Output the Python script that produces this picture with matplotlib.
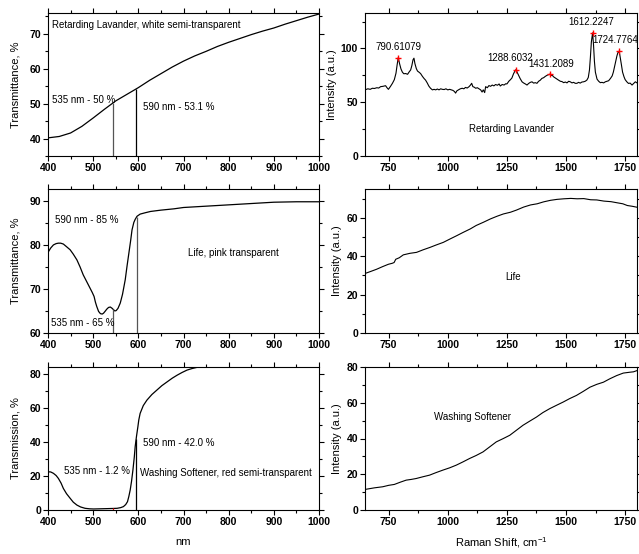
import matplotlib
matplotlib.use("Agg")
import matplotlib.pyplot as plt
from matplotlib.ticker import MultipleLocator

plt.rcParams['font.family'] = ['Liberation Sans', 'DejaVu Sans']

# ---------------- data ----------------
# Panel A: Retarding Lavander transmittance
lav_nm = [400, 425, 450, 475, 500, 525, 550, 575, 600, 625, 650, 675, 700, 725, 750,
          775, 800, 825, 850, 875, 900, 925, 950, 975, 1000]
lav_T = [40.2, 40.6, 41.6, 43.5, 45.9, 48.4, 50.8, 52.7, 54.6, 56.7, 58.6, 60.5, 62.2, 63.7, 65.0,
         66.4, 67.6, 68.7, 69.8, 70.8, 71.7, 72.8, 73.8, 74.8, 75.7]
lav_mark_nm = [543, 595]
lav_mark_T = [50.1, 54.3]

# Panel B: Retarding Lavander Raman
lav_ram_x = [650, 662, 672, 681, 690, 700, 708, 716, 726, 737, 743, 749, 757, 766, 774, 781, 786,
             790.6, 796, 802, 808, 814, 822, 830, 837, 843, 848, 853, 857, 861, 867, 872, 878, 885,
             893, 900, 906, 913, 920, 927, 935, 942, 949, 956, 963, 970, 977, 985, 992, 1000, 1008,
             1015, 1022, 1028, 1033, 1038, 1045, 1053, 1061, 1068, 1075, 1082, 1090, 1096, 1101,
             1106, 1112, 1118, 1125, 1132, 1139, 1145, 1150, 1156, 1160, 1167, 1174, 1181, 1188,
             1195, 1202, 1210, 1217, 1222, 1230, 1238, 1245, 1250, 1258, 1265, 1271, 1278, 1284,
             1288.6, 1294, 1299, 1306, 1314, 1320, 1328, 1335, 1342, 1349, 1356, 1363, 1370, 1377,
             1384, 1391, 1398, 1405, 1412, 1419, 1425, 1431.2, 1438, 1443, 1447, 1455, 1462, 1468,
             1476, 1483, 1490, 1497, 1504, 1511, 1518, 1525, 1532, 1539, 1546, 1553, 1560, 1567,
             1574, 1581, 1588, 1594, 1599, 1603, 1607, 1612.2, 1616, 1620, 1624, 1631, 1638, 1645,
             1652, 1659, 1666, 1673, 1680, 1688, 1695, 1700, 1705, 1710, 1715, 1719, 1724.8, 1729,
             1734, 1739, 1745, 1750, 1757, 1764, 1771, 1779, 1786, 1793, 1800]
lav_ram_y = [61.5, 62.5, 62, 63, 62.8, 63.5, 63.2, 64.5, 64.8, 65.4, 63.5, 62, 64.5, 67.6, 71, 77, 85,
             91.5, 86, 81, 78, 76.5, 76.7, 76, 78.3, 80, 84, 89.5, 91, 86, 81.3, 79, 78, 76.7,
             74, 72, 70.6, 68, 65, 63, 61.5, 62, 61.5, 62.3, 61.5, 62.5, 62, 61.8, 62.5, 61.5, 62,
             61.5, 61, 60, 58.5, 60.5, 61.5, 62.5, 63, 62.5, 63.8, 63.2, 64.5, 66, 67.6,
             64.5, 64, 63, 63.5, 62.5, 61.5, 59.5, 61.5, 59, 64.5, 63.5, 65.5, 64.8, 66,
             65.2, 66.5, 65.8, 67, 65.1, 66.5, 66, 67.2, 67, 69.5, 71, 72.5, 76.5, 79,
             80.4, 77.5, 75.2, 72, 69, 68, 67, 66, 67.5, 68.5, 69, 67.8, 68.2, 67.6,
             69.5, 70.5, 72.2, 72.8, 74, 75, 75.5, 76.1, 75, 74.8, 73.7, 72.5, 71.5, 70.6,
             69.5, 69.2, 68.2, 68.8, 68, 69.5, 69, 68, 68.5, 67.6, 67.6, 68.5, 67.8, 68.8,
             69, 69.5, 70.6, 73, 80, 92, 106, 114.5, 104, 88, 78, 71.5, 69.5, 68.2,
             68.5, 68, 69, 69.5, 70, 72.2, 74.5, 78, 83, 88, 93, 96, 97.5, 92,
             85, 78, 73.7, 71, 69, 67.5, 67.8, 66, 67.5, 69, 68]
lav_peaks_x = [790.6, 1288.6, 1431.2, 1612.2, 1724.8]
lav_peaks_y = [91.5, 80.4, 76.1, 114.5, 97.5]
lav_peak_labels = ["790.61079", "1288.6032", "1431.2089", "1612.2247", "1724.7764"]

# Panel C: Life transmittance
life_nm = [400, 406, 412, 418, 423, 428, 434, 441, 449, 456, 464, 471, 478, 486, 493, 498, 502,
           505, 508, 512, 516, 520, 523, 527, 530, 534, 538, 542, 545, 548, 551, 555, 560, 565,
           571, 575, 579, 583, 586, 590, 593, 597, 604, 615, 627, 650, 679, 700, 750, 800, 850,
           900, 950, 1000]
life_T = [78.3, 79.3, 80.0, 80.3, 80.4, 80.4, 80.2, 79.6, 78.9, 77.9, 76.6, 75.0, 73.2, 71.6, 70.2,
          69.2, 68.3, 67.0, 66.0, 64.9, 64.4, 64.3, 64.5, 65.0, 65.4, 65.8, 65.9, 65.6, 65.3, 65.0,
          65.1, 65.6, 66.8, 68.8, 72.1, 75.2, 78.1, 81.0, 83.4, 85.1, 85.8, 86.5, 87.0, 87.3, 87.6,
          87.9, 88.2, 88.5, 88.8, 89.1, 89.4, 89.7, 89.8, 89.8]
life_mark_nm = [543, 596]
life_mark_T = [65.5, 86.4]

# Panel D: Life Raman
life_ram_x = [650, 675, 699, 725, 749, 765, 773, 780, 795, 812, 840, 868, 895, 925, 950, 981, 1010,
              1038, 1065, 1095, 1120, 1151, 1180, 1208, 1235, 1265, 1290, 1321, 1350, 1378, 1405,
              1434, 1462, 1491, 1520, 1547, 1575, 1604, 1630, 1660, 1690, 1717, 1740, 1759, 1780, 1800]
life_ram_y = [31.0, 32.1, 33.2, 34.6, 35.8, 36.3, 36.7, 38.4, 39.2, 40.7, 41.5, 42.0, 43.3, 44.6,
              45.8, 47.2, 49.0, 50.7, 52.4, 54.2, 56.0, 57.7, 59.4, 60.8, 62.0, 62.9, 64.0, 65.6,
              66.7, 67.3, 68.3, 69.1, 69.6, 69.9, 70.1, 69.9, 70.0, 69.4, 69.3, 68.7, 68.4, 67.8,
              67.3, 66.4, 66.0, 65.5]

# Panel E: Washing Softener transmission
wash_nm = [400, 406, 412, 418, 423, 429, 434, 441, 449, 456, 464, 472, 482, 492, 501, 515, 530,
           543, 553, 561, 567, 572, 576, 579, 582, 585, 588, 591, 593, 596, 599, 601, 604, 611,
           619, 630, 641, 652, 664, 675, 686, 697, 708, 719, 730, 745, 760, 800, 900, 1000]
wash_T = [22.5, 22.4, 21.6, 20.3, 18.6, 15.8, 12.7, 9.6, 6.9, 4.6, 2.9, 1.8, 1.0, 0.7, 0.6, 0.7,
          0.8, 0.9, 1.0, 1.4, 2.0, 3.2, 4.9, 8.0, 11.8, 17.0, 23.5, 31.0, 37.3, 43.5, 49.0, 53.0,
          56.9, 61.5, 64.7, 68.0, 70.6, 73.2, 75.5, 77.6, 79.4, 81.0, 82.4, 83.3, 84.0, 84.5, 84.8,
          85.1, 85.3, 85.4]
wash_mark_nm = [595]
wash_mark_T = [42.0]
wash_red_nm = [543]
wash_red_T = [1.2]

# Panel F: Washing Softener Raman
wash_ram_x = [650, 690, 725, 750, 774, 800, 824, 845, 866, 895, 923, 950, 979, 1008, 1036, 1064,
              1092, 1120, 1149, 1177, 1205, 1235, 1262, 1290, 1318, 1345, 1375, 1402, 1431, 1460,
              1488, 1515, 1544, 1572, 1601, 1630, 1658, 1685, 1714, 1742, 1771, 1785, 1800]
wash_ram_y = [11.5, 12.4, 13.0, 13.8, 14.3, 15.6, 16.7, 17.1, 17.6, 18.6, 19.5, 20.9, 22.3, 23.6,
              25.1, 26.9, 28.8, 30.5, 32.5, 35.3, 38.1, 40.0, 41.8, 44.6, 47.4, 49.6, 52.0, 54.5,
              56.7, 58.6, 60.4, 62.3, 64.1, 66.3, 68.7, 70.3, 71.5, 73.4, 75.2, 76.6, 77.1, 77.3, 78.0]

# ---------------- figure ----------------
fig = plt.figure(figsize=(6.39, 5.54), dpi=100)

L_left, L_w = 48 / 639, 271 / 639
R_left, R_w = 365 / 639, 272 / 639
rows = [(13, 156), (189, 333), (367, 510)]

def axes_at(left, width, row):
    top, bot = rows[row]
    return fig.add_axes([left, 1 - bot / 554, width, (bot - top) / 554])

tick_fs = 7.5
ann_fs = 7
lab_fs = 8

def style(ax, xmaj, xmin, ymaj, ymin):
    ax.xaxis.set_major_locator(MultipleLocator(xmaj))
    ax.xaxis.set_minor_locator(MultipleLocator(xmin))
    ax.yaxis.set_major_locator(MultipleLocator(ymaj))
    ax.yaxis.set_minor_locator(MultipleLocator(ymin))
    ax.tick_params(which='both', direction='out', top=True, right=True,
                   labeltop=False, labelright=False, width=0.8, pad=1.5,
                   labelsize=tick_fs)
    ax.tick_params(which='major', length=3.5)
    ax.tick_params(which='minor', length=2)
    for lab in ax.get_xticklabels() + ax.get_yticklabels():
        lab.set_fontweight('bold')
    for s in ax.spines.values():
        s.set_linewidth(0.8)

# A
axA = axes_at(L_left, L_w, 0)
axA.plot(lav_nm, lav_T, color='black', lw=0.9)
axA.vlines(lav_mark_nm, 35, lav_mark_T, colors=['#555555', 'black'], lw=0.9)
axA.set_xlim(400, 1000)
axA.set_ylim(35, 76)
style(axA, 100, 50, 10, 5)
axA.set_ylabel("Transmittance, %", fontsize=lab_fs)
axA.yaxis.set_label_coords(-0.1, 0.5)
axA.text(0.015, 0.916, "Retarding Lavander, white semi-transparent", transform=axA.transAxes,
         fontsize=ann_fs, va='center', ha='left')
axA.text(0.015, 0.394, "535 nm - 50 %", transform=axA.transAxes, fontsize=ann_fs, va='center')
axA.text(0.349, 0.345, "590 nm - 53.1 %", transform=axA.transAxes, fontsize=ann_fs, va='center')

# B
axB = axes_at(R_left, R_w, 0)
axB.plot(lav_ram_x, lav_ram_y, color='black', lw=0.8)
axB.plot(lav_peaks_x, lav_peaks_y, linestyle='none', marker='+', color='red', ms=5, mew=1)
lbl_off = [(0, 8), (-4, 8), (1, 7), (-1, 7.5), (-3, 8)]
for px, py, t, (dx, dy) in zip(lav_peaks_x, lav_peaks_y, lav_peak_labels, lbl_off):
    axB.annotate(t, (px, py), xytext=(dx, dy), textcoords='offset points', fontsize=ann_fs,
                 ha='center', va='center', annotation_clip=False)
axB.set_xlim(650, 1800)
axB.set_ylim(0, 133)
style(axB, 250, 125, 50, 25)
axB.set_ylabel("Intensity (a.u.)", fontsize=lab_fs, labelpad=3)
axB.text(0.54, 0.19, "Retarding Lavander", transform=axB.transAxes, fontsize=ann_fs,
         ha='center', va='center')

# C
axC = axes_at(L_left, L_w, 1)
axC.plot(life_nm, life_T, color='black', lw=0.9)
axC.vlines(life_mark_nm, 60, life_mark_T, colors='#555555', lw=0.9)
axC.set_xlim(400, 1000)
axC.set_ylim(60, 92.7)
style(axC, 100, 50, 10, 5)
axC.set_ylabel("Transmittance, %", fontsize=lab_fs)
axC.yaxis.set_label_coords(-0.1, 0.5)
axC.text(0.026, 0.785, "590 nm - 85 %", transform=axC.transAxes, fontsize=ann_fs, va='center')
axC.text(0.517, 0.558, "Life, pink transparent", transform=axC.transAxes, fontsize=ann_fs, va='center')
axC.text(0.011, 0.072, "535 nm - 65 %", transform=axC.transAxes, fontsize=ann_fs, va='center')

# D
axD = axes_at(R_left, R_w, 1)
axD.plot(life_ram_x, life_ram_y, color='black', lw=0.8)
axD.set_xlim(650, 1800)
axD.set_ylim(0, 75)
style(axD, 250, 125, 20, 10)
axD.set_ylabel("Intensity (a.u.)", fontsize=lab_fs, labelpad=3)
axD.text(0.546, 0.392, "Life", transform=axD.transAxes, fontsize=ann_fs, ha='center', va='center')

# E
axE = axes_at(L_left, L_w, 2)
axE.plot(wash_nm, wash_T, color='black', lw=0.9)
axE.vlines(wash_mark_nm, 0, wash_mark_T, colors='black', lw=0.9)
axE.vlines(wash_red_nm, 0, wash_red_T, colors='red', lw=0.9)
axE.set_xlim(400, 1000)
axE.set_ylim(0, 84.2)
style(axE, 100, 50, 20, 10)
axE.set_ylabel("Transmission, %", fontsize=lab_fs)
axE.yaxis.set_label_coords(-0.1, 0.5)
axE.set_xlabel("nm", fontsize=lab_fs)
axE.xaxis.set_label_coords(0.5, -0.19)
axE.text(0.351, 0.466, "590 nm - 42.0 %", transform=axE.transAxes, fontsize=ann_fs, va='center')
axE.text(0.059, 0.273, "535 nm - 1.2 %", transform=axE.transAxes, fontsize=ann_fs, va='center')
axE.text(0.339, 0.257, "Washing Softener, red semi-transparent", transform=axE.transAxes,
         fontsize=ann_fs, va='center')

# F
axF = axes_at(R_left, R_w, 2)
axF.plot(wash_ram_x, wash_ram_y, color='black', lw=0.8)
axF.set_xlim(650, 1800)
axF.set_ylim(0, 80)
style(axF, 250, 125, 20, 10)
axF.set_ylabel("Intensity (a.u.)", fontsize=lab_fs, labelpad=3)
axF.set_xlabel("Raman Shift, cm$^{\\mathregular{-1}}$", fontsize=lab_fs)
axF.xaxis.set_label_coords(0.5, -0.175)
axF.text(0.396, 0.653, "Washing Softener", transform=axF.transAxes, fontsize=ann_fs,
         ha='center', va='center')

fig.savefig("out.png", dpi=100)
